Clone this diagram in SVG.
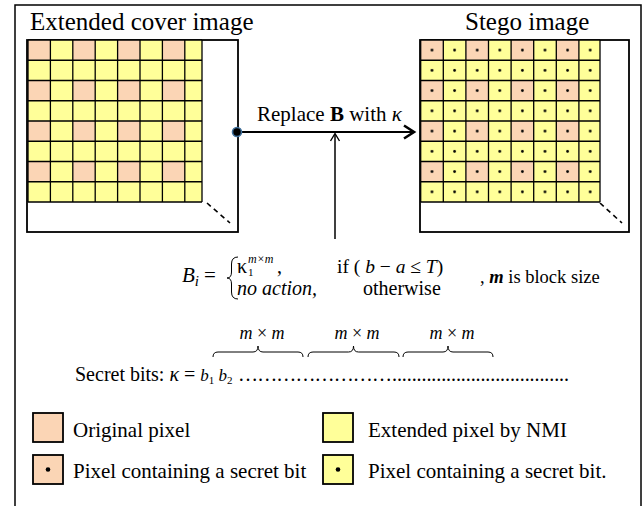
<svg xmlns="http://www.w3.org/2000/svg" width="642" height="506" viewBox="0 0 642 506" font-family="'Liberation Serif', serif">
<style>
  text { font-family: 'Liberation Serif', serif; fill: #000; }
  .it { font-style: italic; }
  .grid { fill: none; stroke: #000; stroke-width: 1.3; }
  .box { fill: none; stroke: #000; stroke-width: 1.8; }
  .pink { fill: #FBD5B5; }
  .yel { fill: #FFFF99; }
  .dash { stroke: #000; stroke-width: 1.6; stroke-dasharray: 5 4; }
  .brace { fill: none; stroke: #000; stroke-width: 1; }
  .leg { stroke: #000; stroke-width: 1.8; }
</style>
<defs>
  <pattern id="chkL" patternUnits="userSpaceOnUse" x="28" y="40" width="44.8" height="40.5">
    <rect width="44.8" height="40.5" fill="#FFFF99"/>
    <rect width="22.4" height="20.25" fill="#FBD5B5"/>
  </pattern>
  <pattern id="chkR" patternUnits="userSpaceOnUse" x="420.7" y="40" width="45.2" height="40.5">
    <rect width="45.2" height="40.5" fill="#FFFF99"/>
    <rect width="22.6" height="20.25" fill="#FBD5B5"/>
  </pattern>
  <pattern id="dotsR" patternUnits="userSpaceOnUse" x="420.7" y="40" width="22.6" height="20.25">
    <circle cx="11.3" cy="10.1" r="1.4" fill="#000"/>
  </pattern>
</defs>
<rect x="15" y="5" width="626" height="520" fill="#fff" stroke="#000" stroke-width="1.5"/>

<g id="cover">
  <text x="30" y="30" font-size="25">Extended cover image</text>
  <rect x="27" y="40" width="211" height="192" class="box" fill="#fff"/>
  <rect x="28" y="40" width="174" height="162" fill="url(#chkL)"/>
  <path class="grid" d="M28,40V202M50.4,40V202M72.8,40V202M95.2,40V202M117.6,40V202M140,40V202M162.4,40V202M184.8,40V202M202,40V202M28,40H202M28,60.25H202M28,80.5H202M28,100.75H202M28,121H202M28,141.25H202M28,161.5H202M28,181.75H202M28,202H202"/>
  <line class="dash" x1="207" y1="203" x2="230" y2="223"/>
</g>

<g id="stego">
  <text x="465" y="30" font-size="25">Stego image</text>
  <rect x="420" y="40" width="209" height="192" class="box" fill="#fff"/>
  <rect x="420.7" y="40" width="179.3" height="162" fill="url(#chkR)"/>
  <rect x="420.7" y="40" width="179.3" height="162" fill="url(#dotsR)"/>
  <path class="grid" d="M420.7,40V202M443.3,40V202M465.9,40V202M488.5,40V202M511.1,40V202M533.7,40V202M556.3,40V202M578.9,40V202M600,40V202M420.7,40H600M420.7,60.25H600M420.7,80.5H600M420.7,100.75H600M420.7,121H600M420.7,141.25H600M420.7,161.5H600M420.7,181.75H600M420.7,202H600"/>
  <line class="dash" x1="600" y1="203" x2="622" y2="223"/>
</g>

<g id="connectors">
  <line x1="237" y1="132" x2="413" y2="132" stroke="#000" stroke-width="2.2"/>
  <polyline points="404,125.5 414,132 404,138.5" fill="none" stroke="#000" stroke-width="2.6"/>
  <line x1="335" y1="239" x2="335" y2="134" stroke="#000" stroke-width="1.5"/>
  <polyline points="330.5,141 335,133.5 339.5,141" fill="none" stroke="#000" stroke-width="1.4"/>
  <circle cx="237" cy="132" r="4.5" fill="#000" stroke="#41719C" stroke-width="1.6"/>
</g>

<g id="label-replace">
  <text x="257" y="121" font-size="21">Replace <tspan font-weight="bold">B</tspan> with <tspan class="it">κ</tspan></text>
</g>

<g id="formula">
  <text class="it" x="182" y="282" font-size="21">B<tspan font-size="15" dy="4">i</tspan></text>
  <text x="204" y="282" font-size="21">=</text>
  <path class="brace" stroke-width="1.3" d="M238,257 Q231.5,257 231.5,264 L231.5,272 Q231.5,278 227,278 Q231.5,278 231.5,284 L231.5,292 Q231.5,299 238,299"/>
  <text x="237" y="273" font-size="20">κ</text>
  <text x="248" y="276" font-size="11">1</text>
  <text class="it" x="248" y="263" font-size="12">m×m</text>
  <text x="277" y="273" font-size="20">,</text>
  <text x="337" y="273" font-size="19.5">if ( <tspan class="it">b</tspan> − <tspan class="it">a</tspan> ≤ <tspan class="it">T</tspan>)</text>
  <text class="it" x="237" y="295" font-size="20">no action,</text>
  <text x="363" y="295" font-size="20">otherwise</text>
  <text x="480" y="283" font-size="18.5">, <tspan class="it" font-weight="bold">m</tspan> is block size</text>
</g>

<g id="secret-bits">
  <text class="it" x="262" y="339" font-size="18" text-anchor="middle">m <tspan font-style="normal">×</tspan> m</text>
  <text class="it" x="357" y="339" font-size="18" text-anchor="middle">m <tspan font-style="normal">×</tspan> m</text>
  <text class="it" x="452" y="339" font-size="18" text-anchor="middle">m <tspan font-style="normal">×</tspan> m</text>
  <path class="brace" d="M213,357 Q213,352 218,352 L253,352 Q258,352 258,346 Q258,352 263,352 L298,352 Q303,352 303,357"/>
  <path class="brace" d="M308,357 Q308,352 313,352 L348.5,352 Q353.5,352 353.5,346 Q353.5,352 358.5,352 L394,352 Q399,352 399,357"/>
  <path class="brace" d="M403,357 Q403,352 408,352 L443,352 Q448,352 448,346 Q448,352 453,352 L488,352 Q493,352 493,357"/>
  <text x="75" y="381" font-size="20">Secret bits: <tspan class="it">κ</tspan> = <tspan class="it" font-size="17">b</tspan><tspan font-size="11" dy="3">1</tspan><tspan class="it" font-size="17" dy="-3"> b</tspan><tspan font-size="11" dy="3">2</tspan></text>
  <text x="238" y="381" font-size="20" textLength="154" lengthAdjust="spacing">……………………</text>
  <text x="392" y="381" font-size="20" textLength="177" lengthAdjust="spacing">....................................</text>
</g>

<g id="legend">
  <rect x="33" y="413" width="30" height="29" class="pink leg"/>
  <text x="73" y="437" font-size="21">Original pixel</text>
  <rect x="323" y="413" width="30" height="29" class="yel leg"/>
  <text x="368" y="437" font-size="21">Extended pixel by NMI</text>
  <rect x="33" y="455" width="30" height="29" class="pink leg"/>
  <circle cx="48" cy="469.5" r="2.3" fill="#000"/>
  <text x="73" y="478" font-size="21">Pixel containing a secret bit</text>
  <rect x="323" y="455" width="30" height="29" class="yel leg"/>
  <circle cx="338" cy="469.5" r="2.3" fill="#000"/>
  <text x="368" y="478" font-size="21">Pixel containing a secret bit.</text>
</g>
</svg>
